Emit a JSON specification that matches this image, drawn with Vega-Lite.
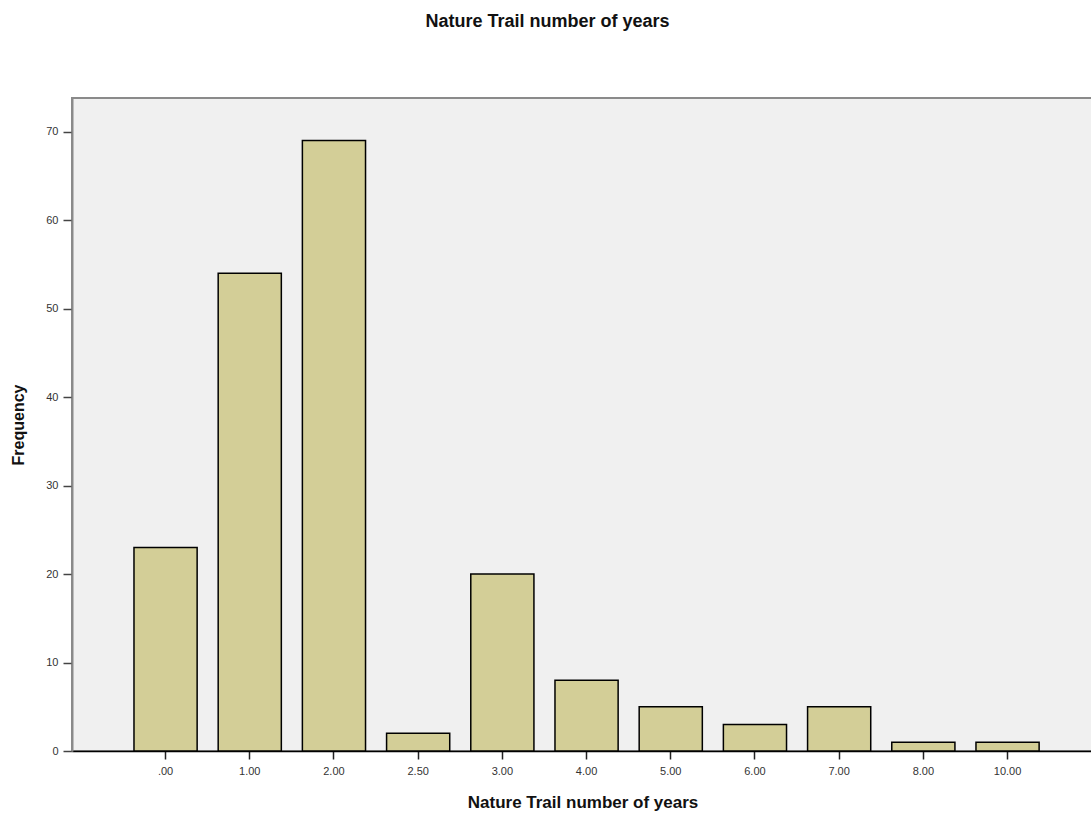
{
  "$schema": "https://vega.github.io/schema/vega-lite/v6.json",
  "autosize": "none",
  "width": 1021,
  "height": 653,
  "padding": {"left": 72, "top": 98, "right": 0, "bottom": 64},
  "background": "white",
  "config": {
    "font": "Liberation Sans",
    "view": {"fill": "#f0f0f0", "stroke": "#8a8a8a", "strokeWidth": 2}
  },
  "title": {
    "text": "Nature Trail number of years",
    "fontSize": 18,
    "fontWeight": "bold",
    "color": "#111",
    "anchor": "middle",
    "frame": "group",
    "dx": -35,
    "offset": 67
  },
  "data": {
    "values": [
      {"years": ".00", "freq": 23},
      {"years": "1.00", "freq": 54},
      {"years": "2.00", "freq": 69},
      {"years": "2.50", "freq": 2},
      {"years": "3.00", "freq": 20},
      {"years": "4.00", "freq": 8},
      {"years": "5.00", "freq": 5},
      {"years": "6.00", "freq": 3},
      {"years": "7.00", "freq": 5},
      {"years": "8.00", "freq": 1},
      {"years": "10.00", "freq": 1}
    ]
  },
  "mark": {"type": "bar", "fill": "#d3ce97", "stroke": "#000", "strokeWidth": 1.5},
  "encoding": {
    "x": {
      "field": "years",
      "type": "ordinal",
      "sort": null,
      "scale": {"paddingInner": 0.25, "paddingOuter": 0.688, "align": 0.535},
      "axis": {
        "title": "Nature Trail number of years",
        "titleFontSize": 17,
        "titleFontWeight": "bold",
        "titleColor": "#111",
        "titlePadding": 18,
        "labelAngle": 0,
        "labelFontSize": 11,
        "labelColor": "#333",
        "labelPadding": 6,
        "tickSize": 8,
        "tickColor": "#222",
        "tickWidth": 1.5,
        "domainColor": "#000",
        "domainWidth": 1.5,
        "grid": false
      }
    },
    "y": {
      "field": "freq",
      "type": "quantitative",
      "scale": {"domain": [0, 73.8], "nice": false},
      "axis": {
        "title": "Frequency",
        "titleFontSize": 16,
        "titleFontWeight": "bold",
        "titleColor": "#111",
        "titlePadding": 19,
        "values": [0, 10, 20, 30, 40, 50, 60, 70],
        "labelFontSize": 11,
        "labelColor": "#333",
        "labelPadding": 5,
        "tickSize": 9,
        "tickColor": "#444",
        "tickWidth": 1.5,
        "domainColor": "#8a8a8a",
        "domainWidth": 2,
        "grid": false
      }
    }
  }
}
